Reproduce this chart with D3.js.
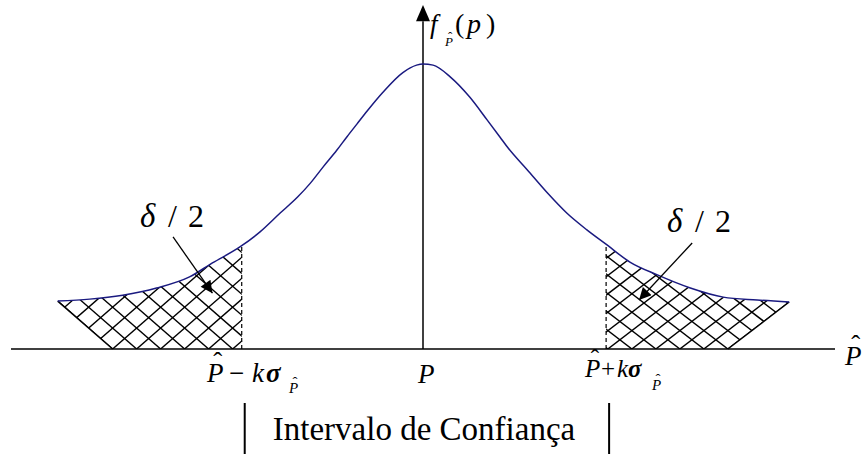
<!DOCTYPE html>
<html>
<head>
<meta charset="utf-8">
<script src="https://cdn.jsdelivr.net/npm/d3@7"></script>
<style>
  body { margin: 0; background: #fff; }
  svg { display: block; }
</style>
</head>
<body>
<svg id="chart" width="864" height="454"></svg>
<script>
// density curve (x in sigma units, y relative to peak)
var curveX = [-3.99, -3.64, -3.28, -2.91, -2.55, -2.30, -2.00, -1.78, -1.56, -1.37, -1.23, -1.09, -0.94, -0.83, -0.72, -0.61, -0.44, -0.22, -0.07, 0,
  0.11, 0.30, 0.51, 0.70, 0.84, 0.93, 1.14, 1.36, 1.57, 1.79, 2.01, 2.26, 2.56, 2.92, 3.28, 3.65, 4.00];
var curveY = [0.168, 0.175, 0.189, 0.214, 0.253, 0.302, 0.358, 0.411, 0.477, 0.533, 0.582, 0.639, 0.698, 0.745, 0.790, 0.835, 0.900, 0.970, 0.996, 1,
  0.996, 0.954, 0.884, 0.804, 0.744, 0.705, 0.628, 0.547, 0.477, 0.418, 0.365, 0.305, 0.260, 0.214, 0.182, 0.172, 0.165];

var limits = [-1.98, 2.0];        // P^ -/+ k sigma
var tailBase = [-3.39, 3.33];     // where the hatched tails meet the axis
var arrowFrom = [[-2.73, 0.393], [2.94, 0.372]];
var arrowTo = [[-2.30, 0.196], [2.36, 0.172]];

var FONT = '"Liberation Serif","Times New Roman",serif';
var svg = d3.select('#chart');

var x = d3.scaleLinear().domain([-4.5, 4.5]).range([11, 835]);
var y = d3.scaleLinear().domain([0, 1]).range([349, 64]);

var pts = curveX.map((d, i) => [d, curveY[i]]);

function curveAt(v) {
  var i = d3.bisectLeft(curveX, v);
  if (i <= 0) return curveY[0];
  if (i >= curveX.length) return curveY[curveY.length - 1];
  var t = (v - curveX[i - 1]) / (curveX[i] - curveX[i - 1]);
  return curveY[i - 1] + t * (curveY[i] - curveY[i - 1]);
}

var line = d3.line()
  .x(d => x(d[0]))
  .y(d => y(d[1]))
  .curve(d3.curveMonotoneX);

var defs = svg.append('defs');
defs.append('marker')
  .attr('id', 'head')
  .attr('viewBox', '0 0 10 10')
  .attr('refX', 10).attr('refY', 5)
  .attr('markerWidth', 15).attr('markerHeight', 12)
  .attr('markerUnits', 'userSpaceOnUse')
  .attr('orient', 'auto')
  .append('path')
  .attr('d', 'M0,0L10,5L0,10Z')
  .attr('fill', '#000');

// hatched tails
var tails = [
  { lo: -4.1, hi: limits[0], base: tailBase[0], edge: pts[0] },
  { lo: limits[1], hi: 4.1, base: tailBase[1], edge: pts[pts.length - 1] }
];

tails.forEach((t, k) => {
  var top = pts.filter(d => d[0] > t.lo && d[0] < t.hi);
  if (k == 0) top.push([t.hi, curveAt(t.hi)]);
  else top.unshift([t.lo, curveAt(t.lo)]);
  var path = line(top);
  if (k == 0) {
    path += `L${x(t.hi)},${y(0)}L${x(t.base)},${y(0)}Z`;
  } else {
    path += `L${x(t.base)},${y(0)}L${x(t.lo)},${y(0)}Z`;
  }
  defs.append('clipPath').attr('id', 'clip' + k)
    .append('path').attr('d', path);

  var g = svg.append('g').attr('clip-path', `url(#clip${k})`);
  var x0 = x(t.base), y0 = y(0), step = 24;
  // hatch slope follows the slanted outer edge of the tail
  var m = (y0 - y(t.edge[1])) / Math.abs(x0 - x(t.edge[0]));
  var segs = [];
  for (var n = -20; n <= 20; n++) {
    var cx = x0 + n * step;
    segs.push([cx - 200, y0 - m * 200, cx + 200, y0 + m * 200]);
    segs.push([cx - 200, y0 + m * 200, cx + 200, y0 - m * 200]);
  }
  g.selectAll('line').data(segs).enter().append('line')
    .attr('x1', d => d[0]).attr('y1', d => d[1])
    .attr('x2', d => d[2]).attr('y2', d => d[3])
    .attr('stroke', '#000').attr('stroke-width', 1.4);

  svg.append('line')
    .attr('x1', x(t.edge[0])).attr('y1', y(t.edge[1]))
    .attr('x2', x(t.base)).attr('y2', y(0))
    .attr('stroke', '#000').attr('stroke-width', 1.4);
});

// dashed limits
svg.selectAll('.limit').data(limits).enter().append('line')
  .attr('class', 'limit')
  .attr('x1', d => x(d)).attr('x2', d => x(d))
  .attr('y1', y(0)).attr('y2', d => y(curveAt(d)))
  .attr('stroke', '#000').attr('stroke-width', 1.2)
  .attr('stroke-dasharray', '4,3');

// axes
svg.append('line')
  .attr('x1', x(-4.5)).attr('x2', x(4.5))
  .attr('y1', y(0)).attr('y2', y(0))
  .attr('stroke', '#000').attr('stroke-width', 1.5);
svg.append('line')
  .attr('x1', x(0)).attr('x2', x(0))
  .attr('y1', y(0)).attr('y2', y(1.15))
  .attr('stroke', '#000').attr('stroke-width', 1.5);
svg.append('path')
  .attr('d', `M${x(0)},${y(1.207)}L${x(0) - 7},${y(1.15)}L${x(0) + 7},${y(1.15)}Z`)
  .attr('fill', '#000');

// density curve
svg.append('path')
  .attr('d', line(pts))
  .attr('fill', 'none')
  .attr('stroke', '#1a1a80')
  .attr('stroke-width', 1.5);

// arrows to the tails
svg.selectAll('.arrow').data(arrowFrom).enter().append('line')
  .attr('class', 'arrow')
  .attr('x1', d => x(d[0])).attr('y1', d => y(d[1]))
  .attr('x2', (d, i) => x(arrowTo[i][0])).attr('y2', (d, i) => y(arrowTo[i][1]))
  .attr('stroke', '#000').attr('stroke-width', 1.3)
  .attr('marker-end', 'url(#head)');

// text helpers
function txt(px, py, size, str, italic, anchor) {
  return svg.append('text')
    .attr('x', px).attr('y', py)
    .style('font-family', FONT)
    .style('font-size', size + 'px')
    .style('font-style', italic ? 'italic' : 'normal')
    .attr('text-anchor', anchor || 'start')
    .text(str);
}
function hatP(px, py, size) {
  txt(px, py, size, 'P', true);
  txt(px + 0.4 * size, py - 0.39 * size, size, '\u02C6', false, 'middle');
}

// f_P^(p)
txt(430, 33, 27, 'f', true);
hatP(445, 46, 13);
txt(455, 33, 28, '(', false);
txt(467, 33, 28, 'p', true);
txt(486, 33, 28, ')', false);

// delta / 2
[[140, 227], [667, 232]].forEach(p => {
  txt(p[0], p[1], 33, '\u03B4', true);
  txt(p[0] + 28, p[1], 32, '/', false);
  txt(p[0] + 48, p[1], 32, '2', false);
});

// P^ - k sigma
hatP(207, 382, 27);
txt(229, 382, 27, '\u2212', false);
txt(252, 382, 27, 'k', true);
txt(266, 382, 27, '\u03C3', true).style('font-weight', 'bold');
hatP(289, 393, 15);

txt(418, 383, 27, 'P', true);

// P^ + k sigma
hatP(585, 377, 25);
txt(601, 377, 25, '+', false);
txt(617, 377, 25, 'k', true);
txt(628, 377, 25, '\u03C3', true).style('font-weight', 'bold');
hatP(652, 390, 15);

// axis label
hatP(845, 365, 27);

// confidence interval
txt(x(0) + 1, 440, 33, 'Intervalo de Confiança', false, 'middle');
svg.selectAll('.bracket').data(limits).enter().append('line')
  .attr('class', 'bracket')
  .attr('x1', d => x(d) + 3).attr('x2', d => x(d) + 3)
  .attr('y1', 403).attr('y2', 454)
  .attr('stroke', '#000').attr('stroke-width', 2);
</script>
</body>
</html>
